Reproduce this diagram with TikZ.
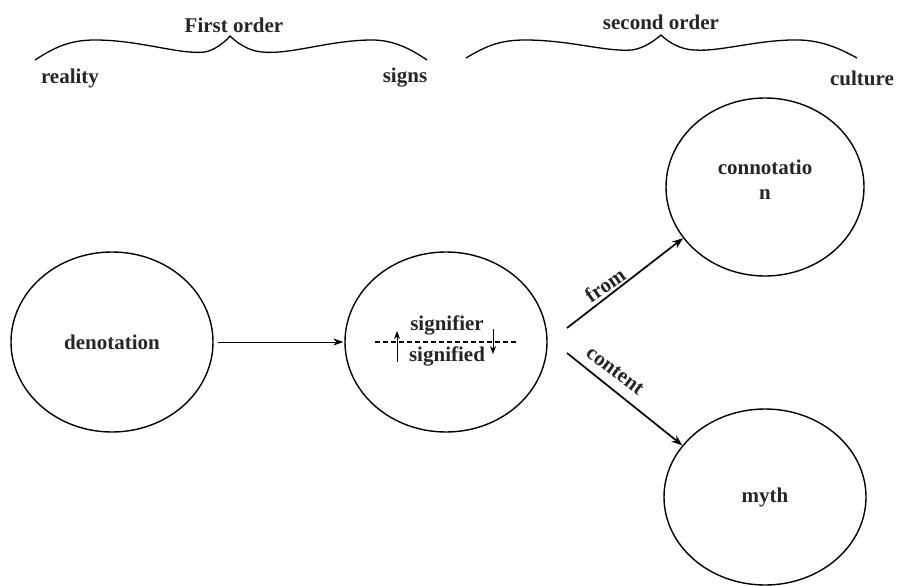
\documentclass[tikz,border=0pt]{standalone}
\usepackage{fontspec}
\setmainfont{Liberation Serif}
\usetikzlibrary{shapes.geometric,arrows.meta}
\begin{document}
\begin{tikzpicture}[x=1pt,y=-1pt,
  every node/.style={font=\fontsize{21}{25}\selectfont\bfseries, text=black!85},
  bubble/.style={draw, ellipse, line width=1.4pt, minimum width=202pt, minimum height=180pt, inner sep=0pt, align=center},
  bracecurve/.style={line width=1.3pt},
  thinarrow/.style={line width=0.7pt, -{Stealth[length=10pt,width=7pt]}},
  thickarrow/.style={line width=1.7pt, -{Stealth[length=11pt,width=8pt]}},
  smallarrow/.style={line width=0.8pt, -{Stealth[length=8pt,width=6pt]}}]
\useasboundingbox (0,0) rectangle (897,586);

% ellipses
\node[bubble] (den) at (112,342) {denotation};
\node[bubble] (sig) at (446,342) {};
\node[bubble, minimum width=198pt, minimum height=178pt] (con) at (765,187) {};
\node[align=center] (contxt) at (765,180) {connotatio\\n};
\node[bubble, minimum width=202pt, minimum height=176pt] (myth) at (765,497) {myth};

% top labels
\node (first) at (234,25) {First order};
\node (reality) at (70,78) {reality};
\node (signs) at (405,78) {signs};
\node (second) at (661,22) {second order};
\node (culture) at (862,78) {culture};

% braces
\draw[bracecurve] (35,60) .. controls (55,47) and (70,40) .. (95,40)
  .. controls (140,40) and (180,55) .. (205,52)
  .. controls (215,50) and (225,42) .. (230,36)
  .. controls (236,42) and (248,51) .. (262,52)
  .. controls (290,55) and (330,40) .. (372,40)
  .. controls (395,40) and (412,50) .. (427,60);
\draw[bracecurve] (466,58) .. controls (486,46) and (500,40) .. (525,40)
  .. controls (570,40) and (605,52) .. (632,50)
  .. controls (645,48) and (655,40) .. (661,35)
  .. controls (667,41) and (680,50) .. (695,50)
  .. controls (720,52) and (760,39) .. (800,40)
  .. controls (825,41) and (842,50) .. (857,58);

% arrow denotation -> sign
\path (den.east) ++(4,0) coordinate (d0);
\draw[thinarrow] (d0) -- ([xshift=-1pt]sig.west);

% inside sign ellipse
\node (signifier) at (447,325) {signifier};
\node (signified) at (447,356) {signified};
\coordinate (dl) at (375,342);
\coordinate (dr) at (516,342);
\draw[line width=1.1pt, dash pattern=on 5pt off 3pt] (dl) -- (dr);
\coordinate (ua) at (397,362);
\coordinate (ub) at (397,331);
\draw[smallarrow] (ua) -- (ub);
\coordinate (da) at (493,329);
\coordinate (db) at (493,354);
\draw[smallarrow] (da) -- (db);

% from / content arrows
\coordinate (f0) at (567,328);
\coordinate (c0) at (567,353);
\draw[thickarrow] (f0) -- (con.212);
\draw[thickarrow] (c0) -- (myth.148);
\node[rotate=35] (from) at (605,285) {from};
\node[rotate=-37] (content) at (615,371) {content};
\end{tikzpicture}
\end{document}
